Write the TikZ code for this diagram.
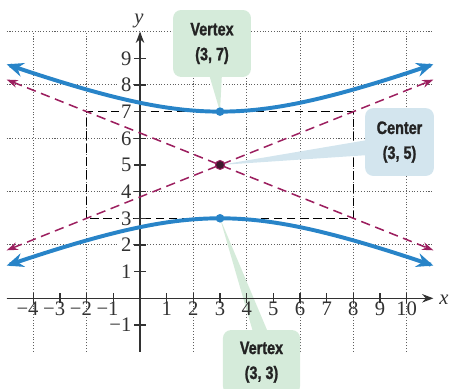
\documentclass[tikz,border=0pt]{standalone}
\usepackage{fontspec}
\setmainfont{Liberation Serif}
\newfontfamily\callfont[FakeStretch=0.8,BoldFeatures={FakeBold=1.2}]{Liberation Sans}
\usetikzlibrary{arrows.meta,calc}
\definecolor{hypblue}{RGB}{40,132,200}
\definecolor{asympurple}{RGB}{156,31,95}
\definecolor{callgreen}{RGB}{213,235,218}
\definecolor{callblue}{RGB}{211,229,238}
\definecolor{axisgray}{RGB}{50,50,50}
\definecolor{gridgray}{RGB}{95,95,95}
\definecolor{textdark}{RGB}{35,35,35}
\definecolor{centerdot}{RGB}{60,25,45}
\begin{document}
\begin{tikzpicture}[x=0.5cm,y=0.5cm,
  gridline/.style={gridgray, line width=0.55pt, dash pattern=on 0.55pt off 0.95pt},
  boxdash/.style={black, line width=0.7pt, dash pattern=on 4.5pt off 2.5pt},
  asym/.style={asympurple, line width=0.8pt, dash pattern=on 5pt off 3pt,
    {Stealth[length=6pt,width=4.2pt]}-{Stealth[length=6pt,width=4.2pt]}},
  hyp/.style={hypblue, line width=2.1pt,
    {Stealth[length=9pt,width=7.5pt,inset=3pt]}-{Stealth[length=9pt,width=7.5pt,inset=3pt]}},
  axisline/.style={axisgray, line width=0.8pt},
  xlab/.style={anchor=base, inner sep=0pt, text=axisgray, font=\fontsize{11}{12}\selectfont},
  ylab/.style={anchor=east, inner sep=1pt, fill=white, text=axisgray, font=\fontsize{11}{12}\selectfont},
  callbox/.style={rounded corners=4.3pt, align=center, inner sep=0pt, text=textdark,
    font=\callfont\bfseries\fontsize{9.6}{13.3}\selectfont},
  vdot/.style={circle, fill=hypblue, inner sep=0pt, minimum size=4.6pt},
  cdot/.style={circle, fill=centerdot, draw=asympurple, line width=0.5pt, inner sep=0pt, minimum size=4.8pt}
]
\useasboundingbox (-5.25,-3.40) rectangle (11.66,11.185);

% grid
\draw[gridline] (-5,-2) grid (11,10);

% dashed central rectangle
\coordinate (boxA) at (-2,3);
\coordinate (boxB) at (8,7);
\draw[boxdash] (boxA) rectangle (boxB);

% key points
\coordinate (V1) at (3,7);
\coordinate (V2) at (3,3);
\coordinate (C) at (3,5);

% callouts
\node[callbox, fill=callgreen, minimum width=1.46cm, minimum height=1.255cm] (topbox) at (2.70,9.555) {Vertex\\(3, 7)};
\fill[callgreen] (V1) -- ($(topbox.south)+(-0.11,0.1)$) -- ($(topbox.south)+(0.37,0.1)$) -- cycle;

\node[callbox, fill=callblue, minimum width=1.29cm, minimum height=1.27cm] (cenbox) at (9.73,5.86) {Center\\(3, 5)};
\fill[callblue] (C) -- ($(cenbox.west)+(0.1,0.075)$) -- ($(cenbox.west)+(0.1,-0.49)$) -- cycle;

\begin{scope}
\clip (-5.25,-3.40) rectangle (11.66,11.185);
\node[callbox, fill=callgreen, minimum width=1.445cm, minimum height=1.205cm] (botbox) at (4.555,-2.395) {Vertex\\(3, 3)};
\end{scope}
\fill[callgreen] (V2) -- ($(botbox.north)+(-0.315,-0.1)$) -- ($(botbox.north)+(0.245,-0.1)$) -- cycle;

% tick labels
\foreach \n in {1,2,3,4} \node[xlab] (xm\n) at (-\n,-0.63) {\llap{−}\n};
\foreach \n in {1,...,10} \node[xlab] (xp\n) at (\n,-0.63) {\n};
\foreach \n in {1,...,9} \node[ylab] (yp\n) at (-0.24,\n) {\n};
\node[ylab] (ym1) at (-0.24,-1) {−1};

% axes
\coordinate (xs) at (-5,0);
\coordinate (xe) at (11,0);
\coordinate (ys) at (0,-2);
\coordinate (ye) at (0,10);
\draw[axisline, -{Stealth[length=6pt,width=4.5pt]}] (xs) -- (xe);
\draw[axisline, -{Stealth[length=6pt,width=4.5pt]}] (ys) -- (ye);
\foreach \n in {-4,-3,-2,-1,1,2,3,4,5,6,7,8,9,10} \draw[axisline] (\n,-0.19) -- (\n,0.19);
\foreach \n in {-1,1,2,3,4,5,6,7,8,9} \draw[axisline] (-0.22,\n) -- (0.22,\n);
\node[anchor=base, inner sep=0pt, text=axisgray, font=\fontsize{11}{12}\selectfont\itshape] (xlabel) at (11.4,-0.25) {x};
\node[anchor=base, inner sep=0pt, text=axisgray, font=\fontsize{11}{12}\selectfont\itshape] (ylabel) at (-0.04,10.32) {y};

% asymptotes
\coordinate (a1) at (-5,8.2);
\coordinate (a2) at (11,1.8);
\coordinate (a3) at (-5,1.8);
\coordinate (a4) at (11,8.2);
\draw[asym] (a1) -- (a2);
\draw[asym] (a3) -- (a4);

% hyperbola branches
\draw[hyp] plot[domain=-5:11, samples=120, smooth] (\x,{5+2*sqrt(1+(\x-3)*(\x-3)/25)});
\draw[hyp] plot[domain=-5:11, samples=120, smooth] (\x,{5-2*sqrt(1+(\x-3)*(\x-3)/25)});

% points
\node[vdot] (v1) at (V1) {};
\node[vdot] (v2) at (V2) {};
\node[cdot] (c) at (C) {};
\end{tikzpicture}
\end{document}
